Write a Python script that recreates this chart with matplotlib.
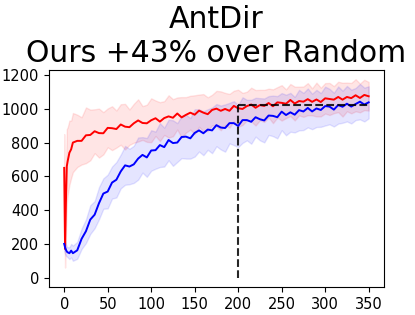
import numpy as np
import matplotlib
matplotlib.use("Agg")
import matplotlib.pyplot as plt

# training steps (finer at the start where the red curve spikes)
steps = [0, 1, 2, 3, 4, 6, 8, 10] + list(range(15, 351, 5))

# Ours (red)
ours_mean = [650, 170, 450, 660, 690, 740, 760, 800,
             810, 810, 843, 845, 867, 856, 855, 887, 885, 880,
             907, 894, 891, 914, 931, 916, 914, 932, 944, 924,
             945, 955, 947, 972, 949, 964, 977, 965, 989, 977,
             968, 993, 1001, 988, 999, 988, 1017, 1003, 999, 1016,
             1025, 1006, 1022, 1017, 1034, 1015, 1038, 1035, 1030, 1052,
             1031, 1046, 1042, 1057, 1041, 1055, 1040, 1062, 1058, 1054,
             1070, 1054, 1070, 1063, 1080, 1064, 1082, 1074]
ours_std = [200, 110, 180, 220, 200, 190, 170, 175,
            155, 140, 165, 150, 130, 145, 125, 115, 130, 110,
            120, 135, 105, 115, 125, 100, 110, 130, 105, 115,
            100, 125, 110, 95, 120, 105, 100, 115, 95, 110,
            100, 90, 105, 115, 95, 100, 90, 110, 95, 85,
            100, 105, 90, 95, 85, 100, 90, 105, 85, 95,
            100, 85, 90, 95, 80, 100, 85, 90, 95, 80,
            90, 100, 85, 90, 95, 85, 90, 85]

# Random (blue)
rand_mean = [200, 180, 165, 155, 150, 145, 160, 145,
             162, 230, 275, 344, 373, 441, 498, 510, 563, 580,
             629, 665, 658, 671, 705, 727, 712, 753, 755, 785,
             773, 815, 797, 800, 833, 835, 825, 857, 872, 855,
             877, 872, 903, 889, 886, 915, 915, 898, 933, 933,
             923, 950, 938, 931, 960, 958, 950, 983, 963, 979,
             965, 992, 984, 1005, 984, 1002, 993, 1016, 1013, 995,
             1022, 1012, 1030, 1013, 1028, 1042, 1025, 1038]
rand_std = [40, 40, 35, 30, 30, 35, 40, 45,
            50, 60, 70, 85, 80, 95, 90, 100, 95, 105,
            100, 115, 105, 110, 125, 105, 115, 120, 110, 130,
            115, 120, 135, 115, 125, 130, 120, 140, 125, 130,
            120, 135, 125, 130, 140, 120, 130, 125, 135, 120,
            130, 115, 125, 130, 115, 120, 125, 110, 120, 115,
            105, 120, 110, 115, 105, 110, 100, 115, 105, 100,
            110, 95, 105, 100, 95, 105, 100, 95]

ours_at_200 = 1020
x_mark = 200

steps = np.array(steps)
ours_mean = np.array(ours_mean)
ours_std = np.array(ours_std)
rand_mean = np.array(rand_mean)
rand_std = np.array(rand_std)

fig = plt.figure(figsize=(4.15, 3.15), dpi=100)
ax = fig.add_axes([0.118, 0.089, 0.807, 0.689])

ax.plot(steps, ours_mean, color='r', lw=1.4)
ax.fill_between(steps, ours_mean - ours_std, ours_mean + ours_std, color='r', alpha=0.1)
ax.plot(steps, rand_mean, color='b', lw=1.4)
ax.fill_between(steps, rand_mean - rand_std, rand_mean + rand_std, color='b', alpha=0.1)

ax.plot([x_mark, x_mark], [0, ours_at_200], 'k--', lw=1.5, alpha=0.85)
ax.plot([x_mark, steps[-1]], [ours_at_200, ours_at_200], 'k--', lw=1.5, alpha=0.85)

ax.set_xlim(-17.5, 367.5)
ax.set_ylim(-55, 1230)
ax.set_xticks([0, 50, 100, 150, 200, 250, 300, 350])
ax.set_yticks([0, 200, 400, 600, 800, 1000, 1200])
ax.tick_params(labelsize=10.5)
ax.set_title("AntDir\nOurs +43% over Random", fontsize=21.5)

fig.savefig("out.png", dpi=100)
